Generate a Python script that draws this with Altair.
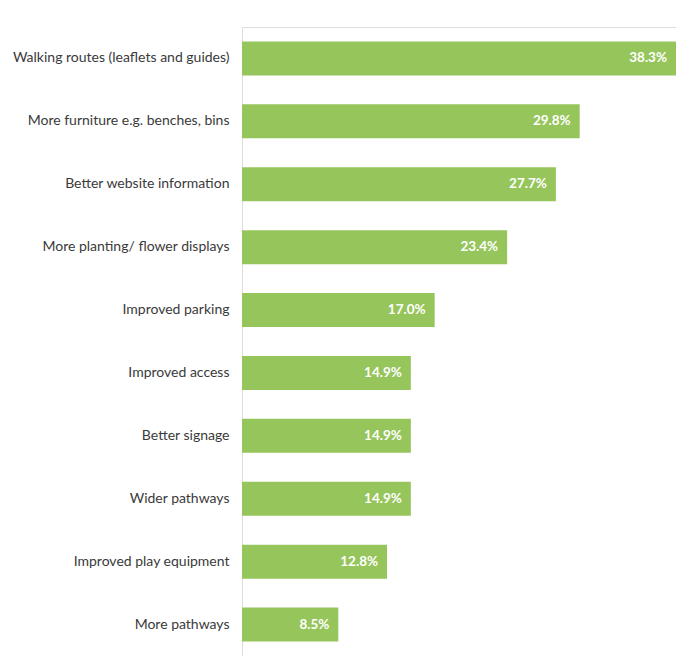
import altair as alt
import pandas as pd

categories = [
    "Walking routes (leaflets and guides)",
    "More furniture e.g. benches, bins",
    "Better website information",
    "More planting/ flower displays",
    "Improved parking",
    "Improved access",
    "Better signage",
    "Wider pathways",
    "Improved play equipment",
    "More pathways",
]
values = [38.3, 29.8, 27.7, 23.4, 17.0, 14.9, 14.9, 14.9, 12.8, 8.5]
labels = ["38.3%", "29.8%", "27.7%", "23.4%", "17.0%", "14.9%", "14.9%", "14.9%", "12.8%", "8.5%"]

df = pd.DataFrame({"cat": categories, "val": values, "lab": labels})

y = alt.Y("cat:N", sort=categories,
          scale=alt.Scale(paddingInner=0.46, paddingOuter=0.23),
          axis=alt.Axis(title=None, ticks=False, labelPadding=13, domainColor="#DDDDDD",
                        domainWidth=1, labelFont="Lato", labelFontSize=14,
                        labelColor="#3A3A3A", labelLimit=300))
x = alt.X("val:Q", scale=alt.Scale(domain=[0, 38.3], nice=False), axis=None)

bars = alt.Chart(df).mark_bar(color="#96C55C").encode(x=x, y=y)
text = alt.Chart(df).mark_text(align="right", dx=-9, color="white", font="Lato",
                               fontSize=13.5, fontWeight="bold").encode(x=x, y=y, text="lab:N")

chart = (bars + text).properties(
    width=434, height=629,
    autosize=alt.AutoSizeParams(type="none"),
    padding={"left": 242, "top": 27, "right": 0, "bottom": 0},
).configure_view(stroke=None).configure(background="white")

chart.save("out.html", embed_options={"renderer": "svg", "actions": False})
